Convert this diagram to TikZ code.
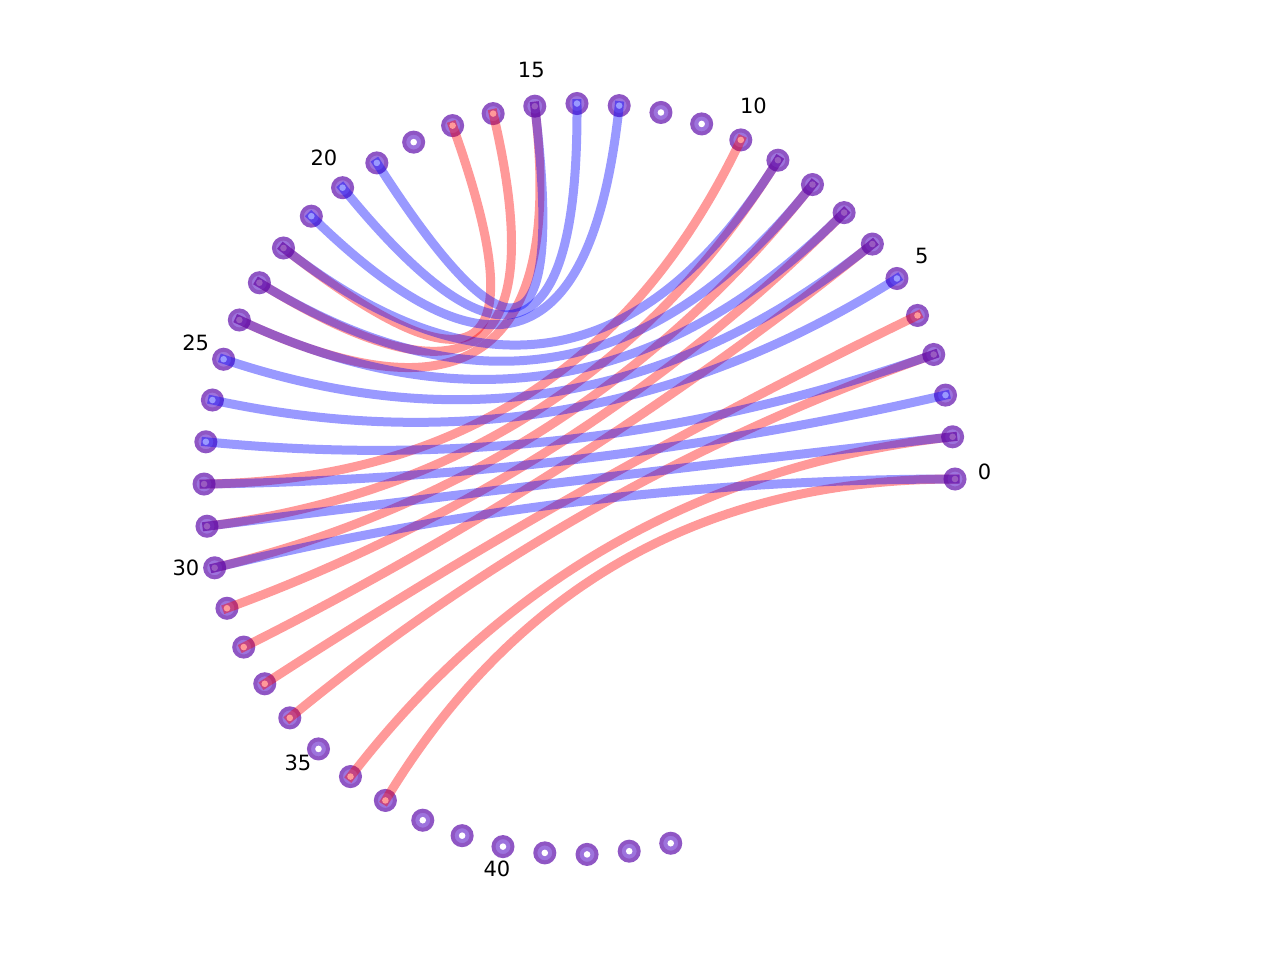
\documentclass[tikz,border=0pt]{standalone}
\usepackage{fontspec}
\setmainfont{DejaVu Sans}
\usetikzlibrary{calc}
\definecolor{ringpurple}{HTML}{8F56C4}
\definecolor{facepurple}{HTML}{9D73DD}
\begin{document}
\begin{tikzpicture}[x=0.5pt,y=-0.5pt,
  vertex/.style={circle,draw=ringpurple,fill=facepurple,line width=2pt,minimum size=9.5pt,inner sep=0pt},
  rededge/.style={draw=red,opacity=0.4,line width=4.5pt,line cap=rect},
  blueedge/.style={draw=blue,opacity=0.4,line width=4.5pt,line cap=rect},
  numlabel/.style={font=\fontsize{10.5}{12}\selectfont,text=black,inner sep=0pt}]
\useasboundingbox[fill=white] (0,0) rectangle (1280,960);
\coordinate (C) at (579.5,479);
\foreach \i in {0,...,44}{
  \pgfmathsetmacro{\a}{\i*6.456}
  \node[vertex] (n\i) at ({579.5+375.5*cos(\a)},{479-375.5*sin(\a)}) {};
  \fill[white] (n\i.center) circle[radius=1.65pt];
}
% red edges
\foreach \p/\q in {0/37,1/36,3/34,4/33,6/32,7/31,8/30,9/29,10/28,15/24,16/23,17/22}{
  \draw[rededge] (n\p.center) .. controls ($(n\p.center)!0.6667!(C)$) and ($(n\q.center)!0.6667!(C)$) .. (n\q.center);
}
% blue edges
\foreach \p/\q in {0/30,1/29,2/28,3/27,5/26,6/25,7/24,8/23,9/22,13/21,14/20,15/19}{
  \draw[blueedge] (n\p.center) .. controls ($(n\p.center)!0.6667!(C)$) and ($(n\q.center)!0.6667!(C)$) .. (n\q.center);
}
% labels
\foreach \k in {0,5,...,40}{
  \pgfmathsetmacro{\a}{\k*6.456}
  \node[numlabel] (L\k) at ({579.5+405*cos(\a)},{472-405*sin(\a)}) {\k};
}
\end{tikzpicture}
\end{document}
